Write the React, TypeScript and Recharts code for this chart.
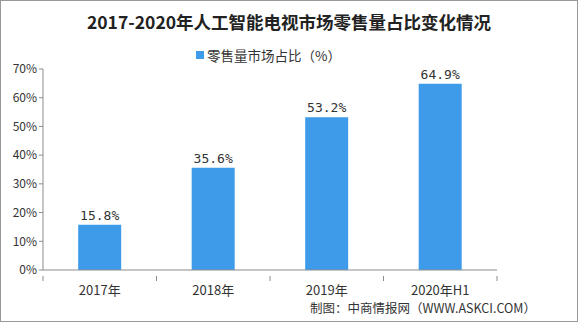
import { Bar, BarChart, LabelList, XAxis, YAxis } from "recharts";

const categories = ["2017年", "2018年", "2019年", "2020年H1"];
const shareValues = [15.8, 35.6, 53.2, 64.9];
const yTicks = [0, 10, 20, 30, 40, 50, 60, 70];

const W = 578;
const H = 322;
const X_AXIS_H = 52;
const M = { top: 69, right: 81, bottom: 0, left: 0 };
const Y_AXIS_W = 43;
const BAND = (W - M.left - M.right - Y_AXIS_W) / categories.length;

const data = categories.map((name, i) => ({ name, share: shareValues[i] }));

const AXIS = "#8c8c8c";
const TEXT = "#333";
const FONT = "'Noto Sans CJK SC', 'DejaVu Sans', sans-serif";

function XTick(props: any) {
  const { x, y, payload, index } = props;
  const last = index === categories.length - 1;
  return (
    <g>
      <line x1={x - BAND / 2} x2={x - BAND / 2} y1={y - 2} y2={y + 3} stroke={AXIS} />
      {last && <line x1={x + BAND / 2} x2={x + BAND / 2} y1={y - 2} y2={y + 3} stroke={AXIS} />}
      <text x={x} y={y + 17} textAnchor="middle" fontSize={13} fill={TEXT} fontFamily={FONT}>
        {payload.value}
      </text>
    </g>
  );
}

export default function App() {
  return (
    <div
      style={{
        position: "absolute",
        left: 0,
        top: 0,
        width: W,
        height: H,
        background: "#fff",
        fontFamily: FONT,
      }}
    >
      <div
        style={{
          position: "absolute",
          left: 0,
          top: 0,
          width: W - 2,
          height: H - 2,
          border: "1px solid #999",
        }}
      />
      <div
        style={{
          position: "absolute",
          left: 0,
          width: W,
          top: 9,
          textAlign: "center",
          fontSize: 17.5,
          fontWeight: "bold",
          color: "#222",
          fontFamily: "'Noto Sans CJK SC', serif",
        }}
      >
        2017-2020年人工智能电视市场零售量占比变化情况
      </div>
      <div
        style={{
          position: "absolute",
          left: 196,
          top: 45,
          fontSize: 13.5,
          color: TEXT,
          display: "flex",
          alignItems: "center",
        }}
      >
        <span
          style={{ display: "inline-block", width: 8, height: 8, background: "#3d9be9", marginRight: 3 }}
        />
        零售量市场占比（%）
      </div>
      <BarChart width={W} height={H} data={data} margin={M} barCategoryGap="31%">
        <YAxis
          width={Y_AXIS_W}
          domain={[0, 70]}
          ticks={yTicks}
          interval={0}
          tickFormatter={(v: number) => `${v}%`}
          tick={{ fill: TEXT, fontSize: 12, fontFamily: FONT }}
          axisLine={{ stroke: AXIS }}
          tickLine={{ stroke: AXIS }}
          tickSize={4}
        />
        <XAxis
          dataKey="name"
          interval={0}
          axisLine={{ stroke: AXIS }}
          tickLine={false}
          tick={<XTick />}
          height={X_AXIS_H}
        />
        <Bar dataKey="share" fill="#3d9be9" isAnimationActive={false}>
          <LabelList
            dataKey="share"
            position="top"
            formatter={(v: number) => `${v.toFixed(1)}%`}
            style={{ fill: TEXT, fontSize: 13, fontFamily: "'DejaVu Sans Mono', monospace" }}
          />
        </Bar>
      </BarChart>
      <div
        style={{
          position: "absolute",
          left: 310,
          top: 298,
          fontSize: 12.5,
          color: TEXT,
        }}
      >
        制图：中商情报网（WWW.ASKCI.COM）
      </div>
    </div>
  );
}
